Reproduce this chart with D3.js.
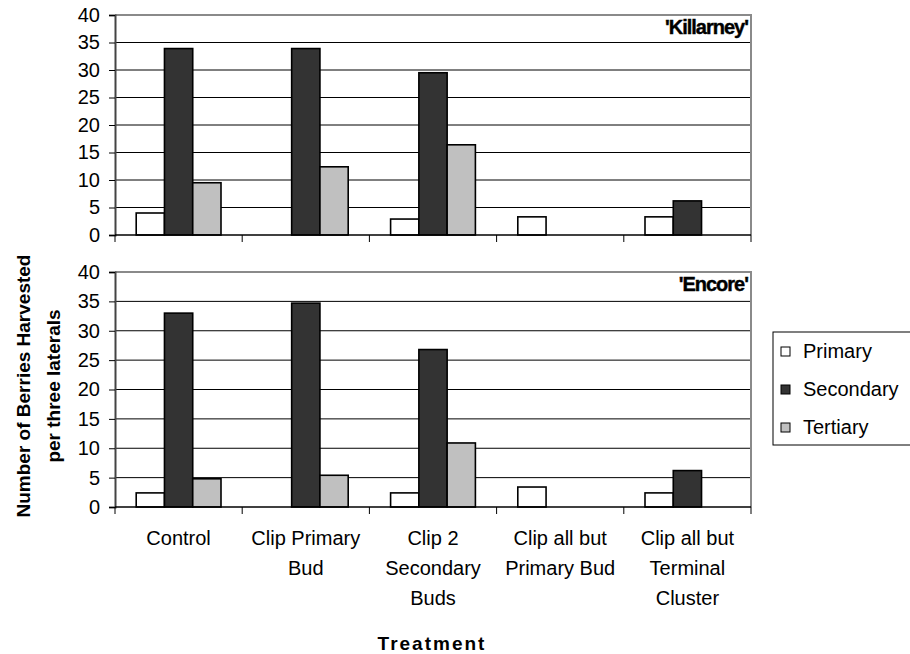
<!DOCTYPE html>
<html>
<head>
<meta charset="utf-8">
<script src="https://cdn.jsdelivr.net/npm/d3@7"></script>
<style>
  body { margin: 0; background: #fff; }
  svg { display: block; font-family: "Liberation Sans", Arial, sans-serif; }
</style>
</head>
<body>
<svg width="910" height="654"></svg>
<script>
// treatments on the x axis, split into the lines shown under each group
var categories = ["Control", "Clip Primary Bud", "Clip 2 Secondary Buds", "Clip all but Primary Bud", "Clip all but Terminal Cluster"];
var categoryLines = [["Control"], ["Clip Primary", "Bud"], ["Clip 2", "Secondary", "Buds"], ["Clip all but", "Primary Bud"], ["Clip all but", "Terminal", "Cluster"]];
var series = ["Primary", "Secondary", "Tertiary"];
var colors = ["#ffffff", "#333333", "#c0c0c0"];
var yTicks = [0, 5, 10, 15, 20, 25, 30, 35, 40];

// 'Killarney'
var killarneyPrimary   = [4.0, null, 2.9, 3.3, 3.3];
var killarneySecondary = [33.9, 33.9, 29.5, null, 6.2];
var killarneyTertiary  = [9.5, 12.4, 16.4, null, null];

// 'Encore'
var encorePrimary   = [2.4, null, 2.4, 3.4, 2.4];
var encoreSecondary = [33.0, 34.7, 26.8, null, 6.2];
var encoreTertiary  = [4.8, 5.4, 10.9, null, null];

var panels = [
  { name: "'Killarney'", top: 15, bottom: 235, values: [killarneyPrimary, killarneySecondary, killarneyTertiary] },
  { name: "'Encore'", top: 272, bottom: 507, values: [encorePrimary, encoreSecondary, encoreTertiary] }
];

var svg = d3.select("svg");
var left = 115, right = 751;

var x = d3.scaleBand().domain(categories).range([left, right]).padding(0);
// Excel style: gap width 150% -> bars are 2/9 of a category
var x1 = d3.scaleBand().domain(series).range([x.bandwidth() / 6, x.bandwidth() * 5 / 6]).padding(0);

panels.forEach(function(p) {
  var y = d3.scaleLinear().domain([0, 40]).range([p.bottom, p.top]);
  var g = svg.append("g");

  // gridlines
  g.selectAll("line.grid")
    .data(yTicks.slice(1, -1))
    .enter().append("line")
    .attr("x1", left).attr("x2", right)
    .attr("y1", function(d) { return y(d); })
    .attr("y2", function(d) { return y(d); })
    .attr("stroke", "#000").attr("stroke-width", 1);

  // plot frame, top and right in grey
  g.append("path")
    .attr("d", "M" + left + "," + p.top + "H" + right + "V" + p.bottom)
    .attr("fill", "none").attr("stroke", "#8a8a8a").attr("stroke-width", 2);

  // bars
  series.forEach(function(s, si) {
    g.selectAll("rect.s" + si)
      .data(p.values[si].map(function(v, i) { return { v: v, c: categories[i] }; })
        .filter(function(d) { return d.v != null; }))
      .enter().append("rect")
      .attr("x", function(d) { return x(d.c) + x1(s); })
      .attr("width", x1.bandwidth())
      .attr("y", function(d) { return y(d.v); })
      .attr("height", function(d) { return y(0) - y(d.v); })
      .attr("fill", colors[si])
      .attr("stroke", "#000").attr("stroke-width", 1.6);
  });

  // y axis
  var ya = g.append("g")
    .attr("transform", "translate(" + left + ",0)")
    .call(d3.axisLeft(y).tickValues(yTicks).tickSize(6).tickPadding(9));
  ya.select(".domain").attr("stroke", "#444").attr("stroke-width", 2);
  ya.selectAll("line").attr("stroke", "#000");
  ya.selectAll("text").attr("font-size", 20).attr("font-family", "Liberation Sans").attr("fill", "#000");

  // x axis with tick marks between categories
  var xa = g.append("g").attr("transform", "translate(0," + p.bottom + ")");
  xa.append("line").attr("x1", left).attr("x2", right).attr("stroke", "#000").attr("stroke-width", 1.5);
  xa.selectAll("line.tk")
    .data(categories.concat([null]))
    .enter().append("line")
    .attr("x1", function(d) { return d == null ? right : x(d); })
    .attr("x2", function(d) { return d == null ? right : x(d); })
    .attr("y1", 0).attr("y2", 7)
    .attr("stroke", "#000");

  // cultivar label
  g.append("text")
    .attr("x", right - 3).attr("y", p.top + 19)
    .attr("text-anchor", "end")
    .attr("font-size", 20).attr("font-weight", "bold")
    .attr("letter-spacing", -1)
    .attr("stroke", "#000").attr("stroke-width", 0.4)
    .text(p.name);
});

// category labels under the lower panel
var lab = svg.append("g").attr("font-size", 20);
categoryLines.forEach(function(lines, i) {
  lines.forEach(function(t, j) {
    lab.append("text")
      .attr("x", x(categories[i]) + x.bandwidth() / 2)
      .attr("y", 545 + j * 30)
      .attr("text-anchor", "middle")
      .text(t);
  });
});

// axis titles
svg.append("text")
  .attr("x", 432).attr("y", 650)
  .attr("text-anchor", "middle")
  .attr("font-size", 19).attr("font-weight", "bold").attr("letter-spacing", 2)
  .text("Treatment");

var yt = svg.append("g").attr("transform", "translate(0,386) rotate(-90)")
  .attr("font-size", 19).attr("font-weight", "bold").attr("text-anchor", "middle");
yt.append("text").attr("x", 0).attr("y", 30).text("Number of Berries Harvested");
yt.append("text").attr("x", 0).attr("y", 60).text("per three laterals");

// legend
var lg = svg.append("g").attr("transform", "translate(773,332)");
lg.append("rect").attr("width", 145).attr("height", 113)
  .attr("fill", "#fff").attr("stroke", "#000");
lg.selectAll("g.item")
  .data(series)
  .enter().append("g")
  .attr("transform", function(d, i) { return "translate(8," + (19 + i * 38) + ")"; })
  .each(function(d, i) {
    var it = d3.select(this);
    it.append("rect").attr("x", 0).attr("y", -4).attr("width", 9).attr("height", 9)
      .attr("fill", colors[i]).attr("stroke", "#000");
    it.append("text").attr("x", 22).attr("y", 7).attr("font-size", 20).text(d);
  });
</script>
</body>
</html>
